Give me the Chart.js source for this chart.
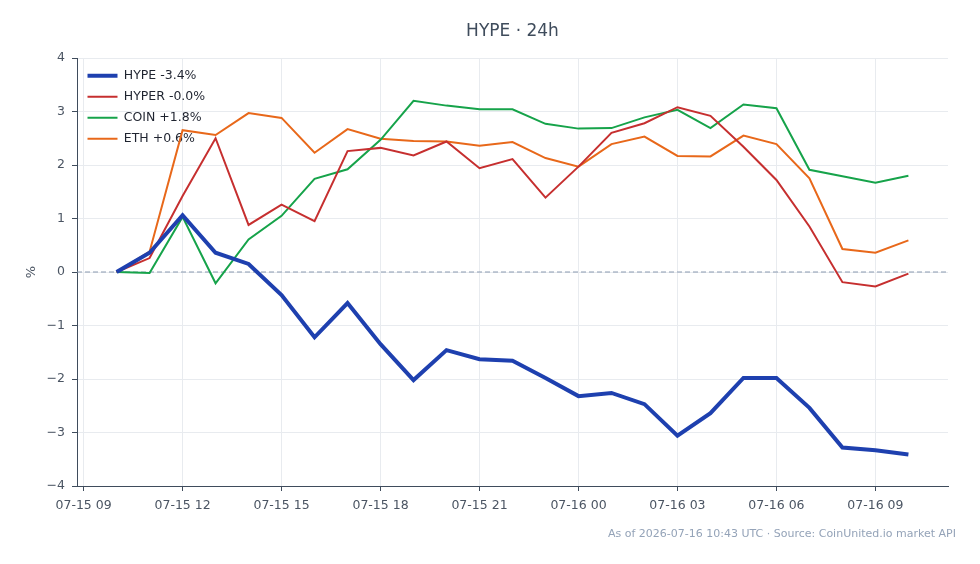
<!DOCTYPE html>
<html>
<head>
<meta charset="utf-8">
<script src="https://cdn.jsdelivr.net/npm/chart.js@4.4.1/dist/chart.umd.min.js"></script>
<style>
html,body{margin:0;padding:0;background:#fff;}
#wrap{width:980px;height:564px;position:relative;}
</style>
</head>
<body>
<div id="wrap"><canvas id="c" width="980" height="564"></canvas></div>
<script>
// Hours since 07-15 00:00 UTC
const hours = [10,11,12,13,14,15,16,17,18,19,20,21,22,23,24,25,26,27,28,29,30,31,32,33,34];
const hype  = [0,0.36,1.06,0.36,0.15,-0.43,-1.22,-0.58,-1.35,-2.02,-1.46,-1.63,-1.66,-1.98,-2.32,-2.26,-2.47,-3.06,-2.64,-1.98,-1.98,-2.54,-3.28,-3.33,-3.41];
const hyper = [0,0.26,1.42,2.50,0.88,1.26,0.95,2.26,2.32,2.18,2.44,1.94,2.11,1.39,1.97,2.60,2.78,3.08,2.92,2.34,1.72,0.85,-0.19,-0.27,-0.03];
const coin  = [0,-0.02,1.03,-0.21,0.61,1.05,1.74,1.92,2.47,3.20,3.11,3.04,3.04,2.77,2.68,2.69,2.89,3.03,2.69,3.13,3.06,1.91,1.79,1.67,1.80];
const eth   = [0,0.38,2.65,2.56,2.97,2.88,2.23,2.67,2.49,2.45,2.44,2.36,2.43,2.13,1.97,2.39,2.53,2.17,2.16,2.55,2.39,1.75,0.43,0.36,0.59];
const seriesNames = ['HYPE -3.4%','HYPER -0.0%','COIN +1.8%','ETH +0.6%'];
const xTicks = [9,12,15,18,21,24,27,30,33];
const yTicks = [-4,-3,-2,-1,0,1,2,3,4];
const titleText = 'HYPE \u00b7 24h';
const footerText = 'As of 2026-07-16 10:43 UTC \u00b7 Source: CoinUnited.io market API';

const pts = arr => arr.map((v,i)=>({x:hours[i], y:v}));
const FONT = "'DejaVu Sans', sans-serif";

const footerPlugin = {
  id:'footer',
  afterLayout(chart){
    const l = chart.legend;
    if(l){
      l.top = chart.chartArea.top + 3;
      l.bottom = chart.chartArea.bottom;
      l.left = chart.chartArea.left + 2;
    }
  },
  afterDraw(chart){
    const ctx = chart.ctx;
    ctx.save();
    ctx.font = "11px " + FONT;
    ctx.fillStyle = '#94a3b8';
    ctx.textAlign = 'right';
    ctx.textBaseline = 'middle';
    ctx.fillText(footerText, 956, 534);
    ctx.restore();
  }
};

const fmtX = v => {
  const d = 15 + Math.floor(v/24);
  const h = ((v%24)+24)%24;
  return '07-' + d + ' ' + String(h).padStart(2,'0');
};

new Chart(document.getElementById('c'), {
  type:'line',
  data:{
    datasets:[
      {label:seriesNames[0], data:pts(hype), borderColor:'#1e40af', backgroundColor:'#1e40af', borderWidth:4, pointRadius:0, tension:0, order:1},
      {label:seriesNames[1], data:pts(hyper), borderColor:'#c62f2f', backgroundColor:'#c62f2f', borderWidth:2, pointRadius:0, tension:0, order:2},
      {label:seriesNames[2], data:pts(coin), borderColor:'#16a34a', backgroundColor:'#16a34a', borderWidth:2, pointRadius:0, tension:0, order:3},
      {label:seriesNames[3], data:pts(eth), borderColor:'#e8681a', backgroundColor:'#e8681a', borderWidth:2, pointRadius:0, tension:0, order:4},
      {label:'zero', data:[{x:8.8,y:0},{x:35.2,y:0}], borderColor:'#8a9ab0', borderWidth:1, borderDash:[5,3], pointRadius:0, order:5}
    ]
  },
  options:{
    responsive:false,
    animation:false,
    layout:{padding:{left:0,right:32,top:0,bottom:0}},
    plugins:{
      title:{display:true, text:titleText, fullSize:false, color:'#3f4c5c', font:{family:FONT, size:17, weight:'normal'}, padding:{top:21,bottom:16.6}},
      legend:{
        position:'chartArea', align:'start',
        labels:{
          filter:item=>item.text!=='zero',
          usePointStyle:true, pointStyle:'line', pointStyleWidth:30,
          color:'#1f2430', font:{family:FONT, size:12.5}, padding:8.5
        }
      },
      tooltip:{enabled:false}
    },
    scales:{
      x:{
        type:'linear', min:8.8, max:35.2,
        afterBuildTicks:s=>{ s.ticks = xTicks.map(v=>({value:v})); },
        afterFit:s=>{ s.height = 78; },
        grid:{color:'#e8ebef', lineWidth:1, tickLength:5, tickColor:'#3f4c5c', drawTicks:true},
        border:{color:'#3f4c5c', width:1},
        ticks:{color:'#4b5563', font:{family:FONT, size:12.5}, padding:7, maxRotation:0, autoSkip:false, callback:v=>fmtX(v)}
      },
      y:{
        min:-4, max:4,
        afterBuildTicks:s=>{ s.ticks = yTicks.map(v=>({value:v})); },
        afterFit:s=>{ s.width = 77; },
        grid:{color:'#e8ebef', lineWidth:1, tickLength:5, tickColor:'#3f4c5c'},
        border:{color:'#3f4c5c', width:1},
        title:{display:true, text:'%', color:'#4b5563', font:{family:FONT, size:13}, padding:{top:24,bottom:0}},
        ticks:{color:'#4b5563', font:{family:FONT, size:12.5}, padding:7, callback:v=>String(v).replace('-','\u2212')}
      }
    }
  },
  plugins:[footerPlugin]
});
</script>
</body>
</html>
